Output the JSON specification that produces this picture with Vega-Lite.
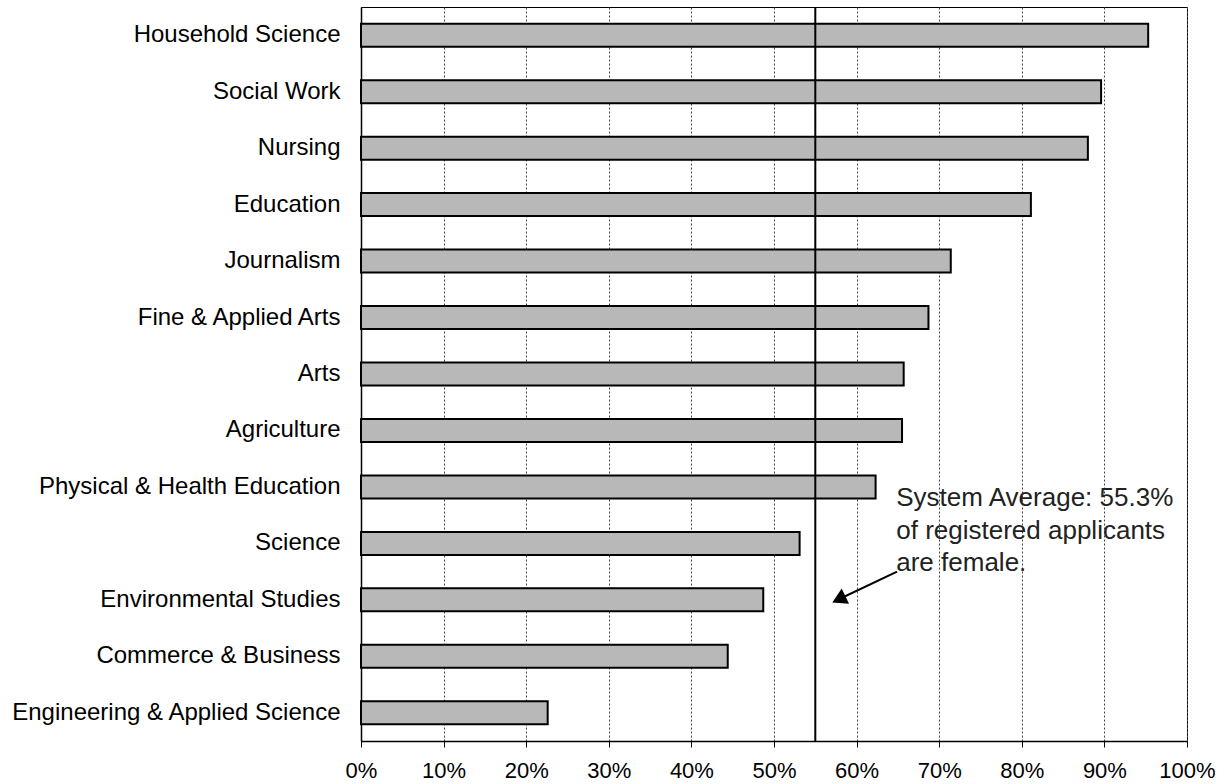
{
  "$schema": "https://vega.github.io/schema/vega-lite/v6.json",
  "width": 826,
  "height": 734,
  "autosize": "none",
  "padding": {"left": 361, "top": 7, "right": 40, "bottom": 43},
  "background": "white",
  "config": {"view": {"stroke": "#000", "strokeWidth": 1}, "font": "Liberation Sans"},
  "layer": [
    {
      "data": {"values": [
        {"field": "Household Science", "share": 0.953},
        {"field": "Social Work", "share": 0.896},
        {"field": "Nursing", "share": 0.880},
        {"field": "Education", "share": 0.811},
        {"field": "Journalism", "share": 0.714},
        {"field": "Fine & Applied Arts", "share": 0.687},
        {"field": "Arts", "share": 0.657},
        {"field": "Agriculture", "share": 0.655},
        {"field": "Physical & Health Education", "share": 0.623},
        {"field": "Science", "share": 0.531},
        {"field": "Environmental Studies", "share": 0.487},
        {"field": "Commerce & Business", "share": 0.444},
        {"field": "Engineering & Applied Science", "share": 0.226}
      ]},
      "mark": {"type": "bar", "fill": "#b8b8b8", "stroke": "#000", "strokeWidth": 2},
      "encoding": {
        "y": {
          "field": "field", "type": "nominal", "sort": null,
          "scale": {"paddingInner": 0.593, "paddingOuter": 0.296},
          "axis": {"title": null, "ticks": false, "domain": true, "domainColor": "#000", "domainWidth": 1.5,
                   "labelFontSize": 24, "labelColor": "#000", "labelPadding": 21, "labelFont": "Liberation Sans",
                   "grid": false, "labelLimit": 400}
        },
        "x": {
          "field": "share", "type": "quantitative",
          "scale": {"domain": [0, 1], "nice": false},
          "axis": {"title": null, "values": [0, 0.1, 0.2, 0.3, 0.4, 0.5, 0.6, 0.7, 0.8, 0.9, 1],
                   "format": ".0%", "grid": true, "gridColor": "#444", "gridDash": [2, 2], "gridWidth": 1,
                   "domainColor": "#000", "domainWidth": 1.5, "tickColor": "#000", "tickSize": 6,
                   "labelFontSize": 22, "labelColor": "#000", "labelPadding": 13, "labelFlush": false,
                   "labelFont": "Liberation Sans"}
        }
      }
    },
    {
      "data": {"values": [{"avg": 0.55}]},
      "mark": {"type": "rule", "color": "#000", "strokeWidth": 2},
      "encoding": {"x": {"field": "avg", "type": "quantitative"}}
    },
    {
      "layer": [
        {
          "data": {"values": [
            {"line": "System Average: 55.3%", "tx": 0.648, "pos": 8.84},
            {"line": "of registered applicants", "tx": 0.648, "pos": 9.42},
            {"line": "are female.", "tx": 0.648, "pos": 9.99}
          ]},
          "mark": {"type": "text", "align": "left", "baseline": "alphabetic", "fontSize": 26, "font": "Liberation Sans", "color": "#222"},
          "encoding": {
            "x": {"field": "tx", "type": "quantitative"},
            "y": {"field": "pos", "type": "quantitative", "scale": {"domain": [0, 13], "reverse": true, "nice": false, "zero": false}, "axis": null},
            "text": {"field": "line"}
          }
        },
        {
          "data": {"values": [{"ax": 0.649, "ay": 10.0, "ax2": 0.574, "ay2": 10.52}]},
          "mark": {"type": "rule", "color": "#000", "strokeWidth": 2},
          "encoding": {
            "x": {"field": "ax", "type": "quantitative"},
            "x2": {"field": "ax2"},
            "y": {"field": "ay", "type": "quantitative", "scale": {"domain": [0, 13], "reverse": true, "nice": false, "zero": false}, "axis": null},
            "y2": {"field": "ay2"}
          }
        },
        {
          "data": {"values": [{"hx": 0.5785, "hy": 10.49}]},
          "mark": {"type": "point", "shape": "triangle-up", "angle": 244, "size": 280, "filled": true, "fill": "#000", "opacity": 1, "strokeWidth": 0},
          "encoding": {
            "x": {"field": "hx", "type": "quantitative"},
            "y": {"field": "hy", "type": "quantitative", "scale": {"domain": [0, 13], "reverse": true, "nice": false, "zero": false}, "axis": null}
          }
        }
      ]
    }
  ],
  "resolve": {"scale": {"y": "independent"}}
}
